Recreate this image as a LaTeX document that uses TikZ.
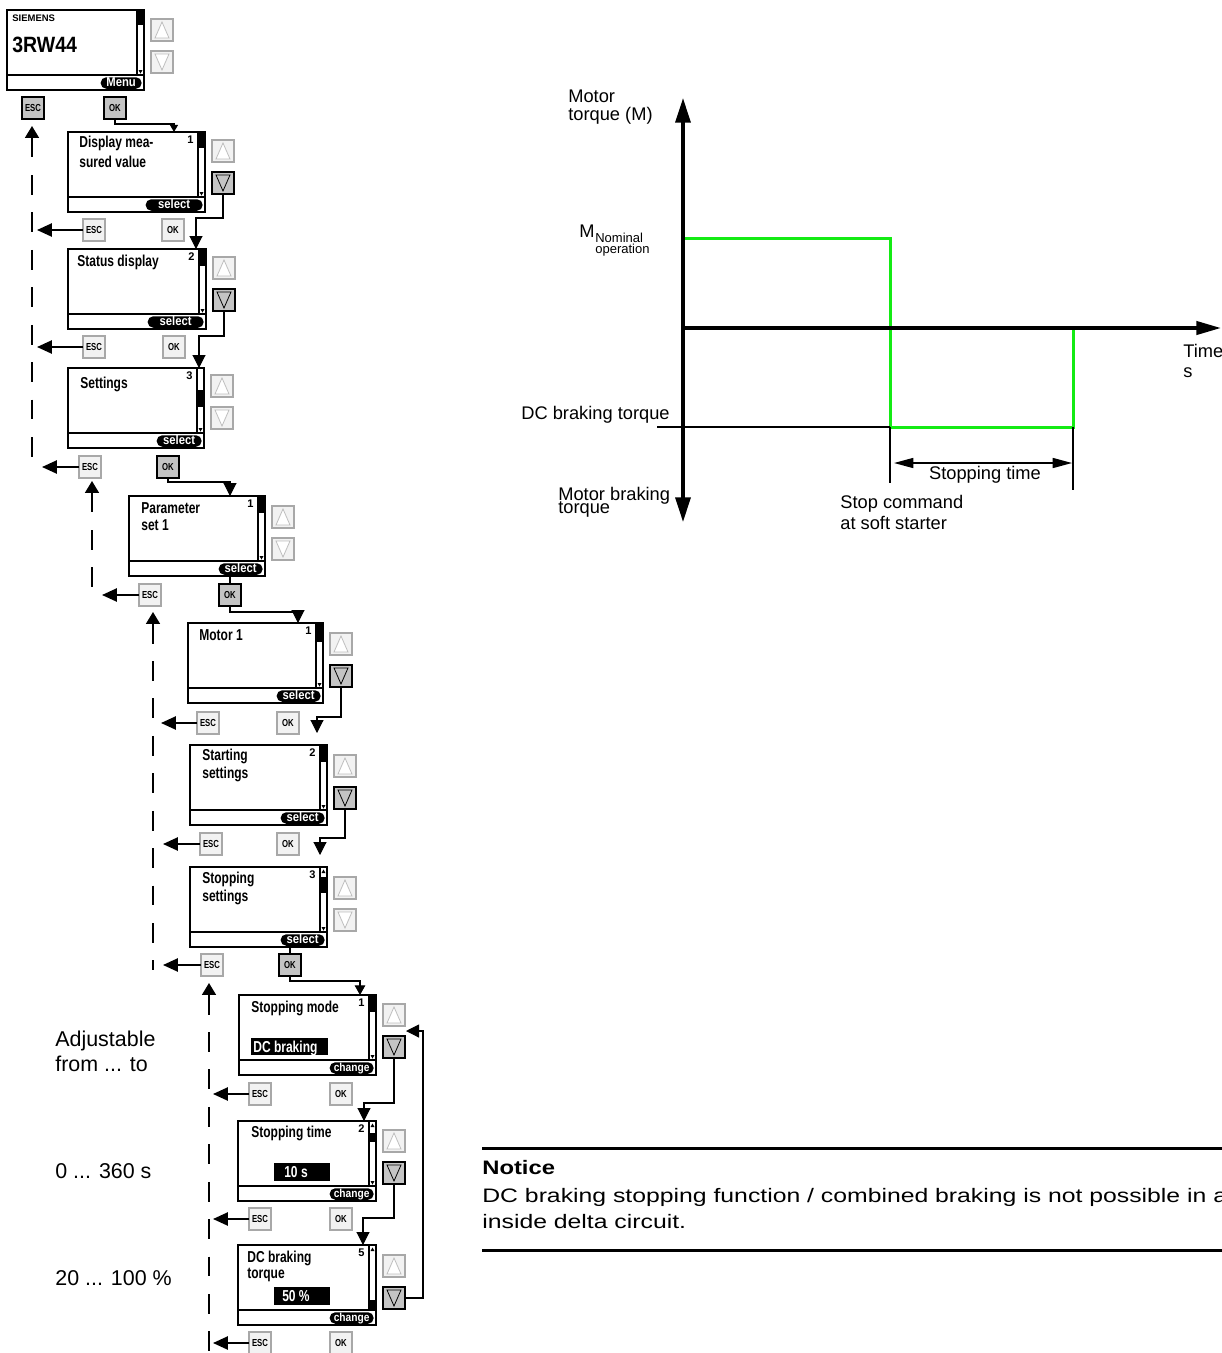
\documentclass[tikz,border=0pt]{standalone}
\usepackage{fontspec}
\setmainfont{Liberation Sans}
\newfontfamily\condfont[FakeStretch=0.76]{Liberation Sans Bold}
\newfontfamily\pillfont[FakeStretch=0.88]{Liberation Sans Bold}
\newfontfamily\boldsans{Liberation Sans Bold}
\newfontfamily\widefont[FakeStretch=1.27]{Liberation Sans}
\newfontfamily\wideboldfont[FakeStretch=1.22]{Liberation Sans Bold}
\usetikzlibrary{arrows.meta,calc}

\definecolor{actgray}{HTML}{C4C4C4}
\definecolor{inactborder}{HTML}{A8A8A8}
\definecolor{inactfill}{HTML}{F2F2F2}
\definecolor{tripale}{HTML}{BEBEBE}
\definecolor{curvegreen}{RGB}{20,235,20}

\tikzset{
 lcd/.style={draw=black, line width=0.75pt, inner sep=0pt, outer sep=0pt, minimum height=1.6cm},
 btnact/.style={draw=black, line width=1.4pt, fill=actgray, minimum width=0.44cm, minimum height=0.44cm, inner sep=0pt, outer sep=0pt, font=\condfont\fontsize{5.8}{6}\selectfont, anchor=north west},
 btninact/.style={btnact, draw=inactborder, fill=inactfill},
 triact/.style={draw=black, line width=0.45pt, fill=actgray},
 triinact/.style={draw=tripale, line width=0.45pt, fill=white},
 lbl/.style={font=\condfont\fontsize{9}{10}\selectfont, inner sep=0pt, anchor=base west},
 numlbl/.style={font=\boldsans\fontsize{6.3}{7}\selectfont, inner sep=0pt, anchor=base east},
 pill/.style={fill=black, text=white, rounded corners=3.2pt, font=\pillfont\fontsize{7.3}{8}\selectfont, inner sep=0pt, minimum height=0.23cm, text height=4.8pt, text depth=1pt, anchor=east},
 pillsmall/.style={pill, font=\pillfont\fontsize{6.6}{7}\selectfont},
 hitext/.style={font=\condfont\fontsize{9}{10}\selectfont, inner sep=0pt, text=white},
 conn/.style={line width=0.6pt, arrows={-Triangle[length=7.4pt,width=7.4pt]}},
 escarrow/.style={line width=1.1pt, arrows={-Triangle[length=8.5pt,width=7.5pt]}},
 dashup/.style={line width=0.7pt, dash pattern=on 11.3pt off 10pt, arrows={Triangle[length=6.8pt,width=8pt]-}},
 axisline/.style={line width=2pt},
 gtext/.style={font=\fontsize{10.4}{12}\selectfont, inner sep=0pt, anchor=base west},
 ltext/.style={font=\fontsize{12.2}{14}\selectfont, inner sep=0pt, anchor=base west},
}

% screen: name, x1, y1, x2, number, thumb top, thumb bottom, up-triangle flag
\newcommand{\lcd}[8]{%
 \node[lcd, minimum width={(#4-#2)*0.02cm}, anchor=north west] (#1) at (#2,#3) {};
 \draw[line width=0.75pt] (#2,#3+65) -- (#4,#3+65);
 \draw[line width=0.6pt] (#4-7,#3) -- (#4-7,#3+65);
 \fill (#4-7,#3+#6) rectangle (#4,#3+#7);
 \fill (#4-5.5,#3+60) -- (#4-1.5,#3+60) -- (#4-3.5,#3+63.5) -- cycle;
 \ifnum#8=1 \fill (#4-5.5,#3+6) -- (#4-1.5,#3+6) -- (#4-3.5,#3+2.5) -- cycle;\fi
 \if\relax\detokenize{#5}\relax\else\node[numlbl] (#1num) at (#4-11,#3+11) {#5};\fi
}
% up and down buttons: prefix, x, y(top of up), up style, down style
\newcommand{\updn}[5]{%
 \node[btn#4] (#1up) at (#2,#3) {};
 \draw[tri#4] (#2+4,#3+19) -- (#2+11,#3+3) -- (#2+18,#3+19) -- cycle;
 \node[btn#5] (#1dn) at (#2,#3+32) {};
 \draw[tri#5] (#2+4,#3+35) -- (#2+11,#3+51) -- (#2+18,#3+35) -- cycle;
}
% ESC / OK row: id, esc x, ok x, y, esc style, ok style
\newcommand{\escok}[6]{%
 \node[btn#5] (esc#1) at (#2,#4) {ESC};
 \node[btn#6] (ok#1) at (#3,#4) {OK};
}

\begin{document}
\begin{tikzpicture}[x=0.02cm, y=-0.02cm]
\useasboundingbox (0,0) rectangle (1222,1353);
\clip (0,0) rectangle (1222,1353);
\fill[white] (0,0) rectangle (1222,1353);

% ================= screens and buttons
\lcd{s0}{7}{10}{144}{}{0}{15}{0}
\updn{s0}{151}{19}{inact}{inact}
\node[pill, minimum width=41*0.02cm] (s0pill) at (142,83) {Menu};
\node[font=\boldsans\fontsize{5.4}{6}\selectfont, inner sep=0pt, anchor=base west] (tsiemens) at (12,21) {SIEMENS};
\node[font=\pillfont\fontsize{12.6}{13}\selectfont, inner sep=0pt, anchor=base west] (t3rw) at (12,52) {3RW44};
\escok{0}{22}{104}{97}{act}{act}

\lcd{s1}{68}{132}{205}{1}{0}{16}{0}
\updn{s1}{212}{140}{inact}{act}
\node[pill, minimum width=57*0.02cm] (s1pill) at (203,205) {select};
\node[lbl] (t1a) at (79,147) {Display mea-};
\node[lbl] (t1b) at (79,167) {sured value};
\escok{1}{83}{162}{219}{inact}{inact}

\lcd{s2}{68}{249}{206}{2}{0}{17}{0}
\updn{s2}{213}{257}{inact}{act}
\node[pill, minimum width=56*0.02cm] (s2pill) at (204,322) {select};
\node[lbl] (t2a) at (77,266) {Status display};
\escok{2}{83}{163}{336}{inact}{inact}

\lcd{s3}{68}{368}{204}{3}{22}{39}{0}
\updn{s3}{211}{375}{inact}{inact}
\node[pill, minimum width=45*0.02cm] (s3pill) at (202,441) {select};
\node[lbl] (t3a) at (80,388) {Settings};
\escok{3}{79}{157}{456}{inact}{act}

\lcd{s4}{129}{496}{265}{1}{0}{17}{0}
\updn{s4}{272}{506}{inact}{inact}
\node[pill, minimum width=44*0.02cm] (s4pill) at (263,569) {select};
\node[lbl] (t4a) at (141,513) {Parameter};
\node[lbl] (t4b) at (141,530) {set 1};
\escok{4}{139}{219}{584}{inact}{act}

\lcd{s5}{188}{623}{323}{1}{0}{19}{0}
\updn{s5}{330}{633}{inact}{act}
\node[pill, minimum width=44*0.02cm] (s5pill) at (321,696) {select};
\node[lbl] (t5a) at (199,640) {Motor 1};
\escok{5}{197}{277}{712}{inact}{inact}

\lcd{s6}{190}{745}{327}{2}{0}{17}{0}
\updn{s6}{334}{755}{inact}{act}
\node[pill, minimum width=44*0.02cm] (s6pill) at (325,818) {select};
\node[lbl] (t6a) at (202,760) {Starting};
\node[lbl] (t6b) at (202,778) {settings};
\escok{6}{200}{277}{833}{inact}{inact}

\lcd{s7}{190}{867}{327}{3}{10}{26}{1}
\updn{s7}{334}{877}{inact}{inact}
\node[pill, minimum width=44*0.02cm] (s7pill) at (325,940) {select};
\node[lbl] (t7a) at (202,883) {Stopping};
\node[lbl] (t7b) at (202,901) {settings};
\escok{7}{201}{279}{954}{inact}{act}

\lcd{s8}{239}{995}{376}{1}{0}{17}{0}
\updn{s8}{383}{1004}{inact}{act}
\node[pillsmall, minimum width=44*0.02cm] (s8pill) at (374,1068) {change};
\node[lbl] (t8a) at (251,1012) {Stopping mode};
\fill (251,1038) rectangle (328,1055);
\node[hitext, anchor=base west] (t8v) at (253,1052) {DC braking};
\escok{8}{249}{330}{1083}{inact}{inact}

\lcd{s9}{238}{1121}{376}{2}{12}{21}{1}
\updn{s9}{383}{1130}{inact}{act}
\node[pillsmall, minimum width=44*0.02cm] (s9pill) at (374,1194) {change};
\node[lbl] (t9a) at (251,1137) {Stopping time};
\fill (274,1163) rectangle (330,1181);
\node[hitext, anchor=base] (t9v) at (296,1177) {10 s};
\escok{9}{249}{330}{1208}{inact}{inact}

\lcd{s10}{238}{1245}{376}{5}{55}{64}{1}
\updn{s10}{383}{1255}{inact}{act}
\node[pillsmall, minimum width=44*0.02cm] (s10pill) at (374,1318) {change};
\node[lbl] (t10a) at (247,1262) {DC braking};
\node[lbl] (t10b) at (247,1278) {torque};
\fill (274,1287) rectangle (330,1305);
\node[hitext, anchor=base] (t10v) at (296,1301) {50 \%};
\escok{10}{249}{330}{1332}{inact}{inact}

% ================= connectors
\draw[conn, arrows={-Triangle[length=4pt,width=4.5pt]}] (ok0.south) -- ++(0,5) -| ($(s1.north west)+(106,0)$);
\draw[conn] (s1dn.south) -- ++(0,24) -| ($(s2.north west)+(128,0)$);
\draw[conn] (s2dn.south) -- ++(0,25) -| ($(s3.north west)+(131,0)$);
\draw[conn] (ok3.south) -- ++(0,4) -| ($(s4.north west)+(101,0)$);
\draw[line width=0.6pt] (ok4.north) -- (ok4.north |- s4.south);
\draw[conn] (ok4.south) -- ++(0,6) -| ($(s5.north west)+(110,0)$);
\draw[conn] (s5dn.south) -- ++(0,30) -| ($(s6.north west)+(127,-12)$);
\draw[conn] (s6dn.south) -- ++(0,29) -| ($(s7.north west)+(130,-12)$);
\draw[line width=0.6pt] (ok7.north) -- (ok7.north |- s7.south);
\draw[conn, arrows={-Triangle[length=5.5pt,width=6pt]}] (ok7.south) -- ++(0,5) -| ($(s8.north west)+(121,0)$);
\draw[conn] (s8dn.south) -- ++(0,45) -| ($(s9.north west)+(126,0)$);
\draw[conn] (s9dn.south) -- ++(0,34) -| ($(s10.north west)+(125,0)$);
\draw[conn] (s10dn.east) -- ++(18,0) |- ($(s8dn.north east)+(1,-5)$);

\draw[escarrow] (esc1.west) -- ++(-46,0);
\draw[escarrow] (esc2.west) -- ++(-46,0);
\draw[escarrow] (esc3.west) -- ++(-37,0);
\draw[escarrow] (esc4.west) -- ++(-37,0);
\draw[escarrow] (esc5.west) -- ++(-36,0);
\draw[escarrow] (esc6.west) -- ++(-37,0);
\draw[escarrow] (esc7.west) -- ++(-38,0);
\draw[escarrow] (esc8.west) -- ++(-36,0);
\draw[escarrow] (esc9.west) -- ++(-36,0);
\draw[escarrow] (esc10.west) -- ++(-36,0);

\draw[dashup] ($(esc0.south)+(-1,7)$) -- ++(0,340);
\draw[dashup] ($(esc3.south)+(2,3)$) -- ++(0,118);
\draw[dashup] ($(esc4.south)+(3,6)$) -- ++(0,358);
\draw[dashup] ($(esc7.south)+(-3,7)$) -- ++(0,380);

% ================= left labels
\node[ltext] (adj1) at (55,1046) {Adjustable};
\node[ltext] (adj2) at (55,1071) {from ... to};
\node[ltext] (rng1) at (55,1178) {0 ... 360 s};
\node[ltext] (rng2) at (55,1285) {20 ... 100 \%};

% ================= graph
\draw[curvegreen, line width=1.7pt] (683,238) -- (890,238) -- (890,427) -- (1073,427) -- (1073,327);
\draw[line width=1.1pt] (657,427) -- (890,427);
\draw[line width=0.8pt] (890,427) -- (890,483);
\draw[line width=0.8pt] (1073,427) -- (1073,490);
\draw[axisline, arrows={Triangle[length=14pt,width=8.5pt]-Triangle[length=14pt,width=8.5pt]}] (683,98) -- (683,522);
\draw[axisline, arrows={-Triangle[length=14pt,width=7.5pt]}] (683,328) -- (1221,328);
\draw[line width=0.8pt, arrows={Triangle[length=11pt,width=5.7pt]-Triangle[length=11pt,width=5.7pt]}] (894,463) -- (1072,463);

\node[gtext] (gm1) at (568,102) {Motor};
\node[gtext] (gm2) at (568,120) {torque (M)};
\node[gtext] (gmn) at (579,237) {M};
\node[font=\fontsize{7.4}{8}\selectfont, inner sep=0pt, anchor=base west] (gmn1) at (595,242) {Nominal};
\node[font=\fontsize{7.4}{8}\selectfont, inner sep=0pt, anchor=base west] (gmn2) at (595,253) {operation};
\node[gtext] (gdc) at (521,419) {DC braking torque};
\node[gtext] (gmb1) at (558,500) {Motor braking};
\node[gtext] (gmb2) at (558,513) {torque};
\node[gtext] (gt1) at (1183,357) {Time};
\node[gtext] (gt2) at (1183,377) {s};
\node[gtext] (gsc1) at (840,508) {Stop command};
\node[gtext] (gsc2) at (840,529) {at soft starter};
\node[gtext, anchor=base] (gst) at (985,479) {Stopping time};

% ================= notice
\draw[line width=1.7pt] (482,1148) -- (1222,1148);
\draw[line width=1.7pt] (482,1250) -- (1222,1250);
\node[font=\wideboldfont\fontsize{11.1}{13}\selectfont, inner sep=0pt, anchor=base west] (ntitle) at (482,1174) {Notice};
\node[font=\widefont\fontsize{11.1}{13}\selectfont, inner sep=0pt, anchor=base west] (nl1) at (482,1202) {DC braking stopping function / combined braking is not possible in a};
\node[font=\widefont\fontsize{11.1}{13}\selectfont, inner sep=0pt, anchor=base west] (nl2) at (482,1228) {inside delta circuit.};
\end{tikzpicture}
\end{document}
